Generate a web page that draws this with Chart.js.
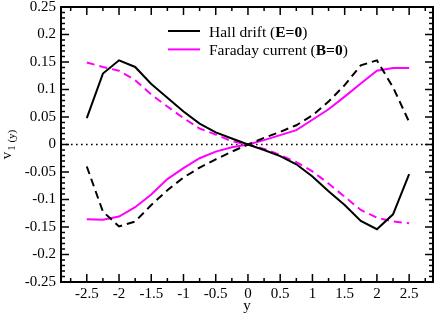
<!DOCTYPE html>
<html>
<head>
<meta charset="utf-8">
<script src="https://cdn.jsdelivr.net/npm/chart.js@4"></script>
<style>
body { margin: 0; background: #fff; }
#wrap { width: 437px; height: 315px; }
</style>
</head>
<body>
<div id="wrap"><canvas id="velocityChart"></canvas></div>
<script>
// -------------------------------------------------------------------------- Data

const positions = [-2.5, -2.25, -2, -1.75, -1.5, -1.25, -1, -0.75, -0.5, -0.25, 0, 0.25, 0.5, 0.75, 1, 1.25, 1.5, 1.75, 2, 2.25, 2.5]

const hallSolid = [0.048, 0.129, 0.153, 0.141, 0.110, 0.085, 0.060, 0.038, 0.022, 0.011, 0, -0.010, -0.021, -0.036, -0.058, -0.085, -0.110, -0.139, -0.154, -0.127, -0.054]
const hallDashed = [-0.040, -0.122, -0.149, -0.140, -0.110, -0.083, -0.060, -0.042, -0.027, -0.013, 0, 0.012, 0.023, 0.035, 0.053, 0.078, 0.108, 0.144, 0.153, 0.104, 0.041]
const faradaySolid = [-0.136, -0.137, -0.131, -0.114, -0.091, -0.063, -0.043, -0.025, -0.013, -0.005, 0, 0.008, 0.017, 0.026, 0.045, 0.064, 0.087, 0.111, 0.134, 0.139, 0.139]
const faradayDashed = [0.149, 0.141, 0.134, 0.117, 0.091, 0.069, 0.048, 0.029, 0.018, 0.006, 0, -0.008, -0.019, -0.032, -0.049, -0.071, -0.095, -0.119, -0.133, -0.140, -0.143]

const xTicks = [-2.5, -2, -1.5, -1, -0.5, 0, 0.5, 1, 1.5, 2, 2.5]
const yTicks = [-0.25, -0.2, -0.15, -0.1, -0.05, 0, 0.05, 0.1, 0.15, 0.2, 0.25]
const xRange = [-2.9, 2.87]
const yRange = [-0.25, 0.25]

// legend entries: [plain, bold, plain]
const legendHall = ['Hall drift (', 'E=0', ')']
const legendFaraday = ['Faraday current (', 'B=0', ')']
const xTitle = 'y'
const yTitleMain = 'v'
const yTitleSub = '1 (y)'

// -------------------------------------------------------------------------- Styles

const black = '#000000'
const magenta = '#ff00ff'
const serif = '"Liberation Serif", "Times New Roman", serif'
const dash = [8, 5]

Chart.defaults.color = black
Chart.defaults.font.family = serif

function series(values) {
    return values.map((v, i) => ({ x: positions[i], y: v }))
}

function lineSet(label, values, color, dashed) {
    return {
        label: label,
        data: series(values),
        borderColor: color,
        backgroundColor: color,
        borderWidth: 2,
        borderDash: dashed ? dash : [],
        pointRadius: 0,
        tension: 0,
        fill: false
    }
}

// -------------------------------------------------------------------------- Plugins

// dotted zero line, frame and inward ticks on all four sides
const framePlugin = {
    id: 'frame',
    beforeDatasetsDraw(chart) {
        const ctx = chart.ctx
        const area = chart.chartArea
        const y0 = chart.scales.y.getPixelForValue(0)
        ctx.save()
        ctx.strokeStyle = black
        ctx.lineWidth = 1.6
        ctx.setLineDash([1.6, 3.4])
        ctx.beginPath()
        ctx.moveTo(area.left, y0)
        ctx.lineTo(area.right, y0)
        ctx.stroke()
        ctx.restore()
    },
    afterDraw(chart) {
        const ctx = chart.ctx
        const area = chart.chartArea
        const xs = chart.scales.x
        const ys = chart.scales.y
        ctx.save()
        ctx.strokeStyle = black
        ctx.lineWidth = 1.5
        ctx.beginPath()

        const xStep = 0.25
        for (let k = Math.ceil(xs.min / xStep - 1e-6); k * xStep <= xs.max + 1e-9; k++) {
            const v = k * xStep
            const major = xTicks.some(t => Math.abs(t - v) < 1e-6)
            const len = major ? 8 : 4
            const px = xs.getPixelForValue(v)
            ctx.moveTo(px, area.bottom)
            ctx.lineTo(px, area.bottom - len)
            ctx.moveTo(px, area.top)
            ctx.lineTo(px, area.top + len)
        }

        const yStep = 0.01
        for (let k = Math.ceil(ys.min / yStep - 1e-6); k * yStep <= ys.max + 1e-9; k++) {
            const v = k * yStep
            const major = yTicks.some(t => Math.abs(t - v) < 1e-6)
            const len = major ? 8 : 4
            const py = ys.getPixelForValue(v)
            ctx.moveTo(area.left, py)
            ctx.lineTo(area.left + len, py)
            ctx.moveTo(area.right, py)
            ctx.lineTo(area.right - len, py)
        }
        ctx.stroke()

        ctx.lineWidth = 2
        ctx.strokeRect(area.left, area.top, area.right - area.left, area.bottom - area.top)
        ctx.restore()
    }
}

// legend with bold field names
const legendPlugin = {
    id: 'mixedLegend',
    afterDraw(chart) {
        const ctx = chart.ctx
        const entries = [[legendHall, black], [legendFaraday, magenta]]
        ctx.save()
        entries.forEach(([parts, color], i) => {
            const y = 31 + i * 18.4
            ctx.strokeStyle = color
            ctx.lineWidth = 2
            ctx.beginPath()
            ctx.moveTo(168, y)
            ctx.lineTo(200, y)
            ctx.stroke()

            let x = 209
            ctx.fillStyle = black
            ctx.textBaseline = 'alphabetic'
            parts.forEach((part, j) => {
                ctx.font = (j === 1 ? 'bold ' : '') + '15.5px ' + serif
                ctx.fillText(part, x, y + 5.5)
                x += ctx.measureText(part).width
            })
        })
        ctx.restore()
    }
}

// y axis title with subscript
const yTitlePlugin = {
    id: 'yTitle',
    afterDraw(chart) {
        const ctx = chart.ctx
        const area = chart.chartArea
        const cy = (area.top + area.bottom) / 2
        ctx.save()
        ctx.fillStyle = black
        ctx.textBaseline = 'alphabetic'
        ctx.font = '15px ' + serif
        const wMain = ctx.measureText(yTitleMain).width
        ctx.font = '11px ' + serif
        const wSub = ctx.measureText(yTitleSub).width
        const total = wMain + wSub + 1
        ctx.translate(11, cy)
        ctx.rotate(-Math.PI / 2)
        ctx.font = '15px ' + serif
        ctx.fillText(yTitleMain, -total / 2, 0)
        ctx.font = '11px ' + serif
        ctx.fillText(yTitleSub, -total / 2 + wMain + 1, 4)
        ctx.restore()
    }
}

// -------------------------------------------------------------------------- Chart Config

const dataVelocity = {
    datasets: [
        lineSet('Hall drift (E=0)', hallSolid, black, false),
        lineSet('Hall drift (E=0) mirror', hallDashed, black, true),
        lineSet('Faraday current (B=0)', faradaySolid, magenta, false),
        lineSet('Faraday current (B=0) mirror', faradayDashed, magenta, true)
    ]
}

const configVelocity = {
    type: 'line',
    data: dataVelocity,
    options: {
        responsive: true,
        maintainAspectRatio: false,
        animation: false,
        layout: {
            padding: { left: 0, top: 7, right: 4, bottom: 0 }
        },
        plugins: {
            legend: { display: false },
            tooltip: { enabled: false }
        },
        scales: {
            x: {
                type: 'linear',
                min: xRange[0],
                max: xRange[1],
                grid: { display: false, drawTicks: false },
                border: { display: false },
                afterBuildTicks: scale => {
                    scale.ticks = xTicks.map(v => ({ value: v }))
                },
                afterFit: scale => {
                    scale.height = 33
                    scale.paddingLeft = 0
                    scale.paddingRight = 0
                },
                ticks: {
                    autoSkip: false,
                    maxRotation: 0,
                    padding: 3,
                    font: { size: 15 },
                    callback: v => String(v)
                },
                title: {
                    display: true,
                    text: xTitle,
                    font: { size: 15 },
                    padding: { top: 0, bottom: 0 }
                }
            },
            y: {
                min: yRange[0],
                max: yRange[1],
                grid: { display: false, drawTicks: false },
                border: { display: false },
                afterBuildTicks: scale => {
                    scale.ticks = yTicks.map(v => ({ value: v }))
                },
                afterFit: scale => {
                    scale.width = 61
                    scale.paddingTop = 0
                    scale.paddingBottom = 0
                },
                ticks: {
                    autoSkip: false,
                    padding: 5,
                    font: { size: 15 },
                    callback: v => String(v)
                }
            }
        }
    },
    plugins: [framePlugin, legendPlugin, yTitlePlugin]
}

// -------------------------------------------------------------------------- Render Chart

let velocityChart = new Chart(
    document.getElementById('velocityChart'),
    configVelocity
)
</script>
</body>
</html>
